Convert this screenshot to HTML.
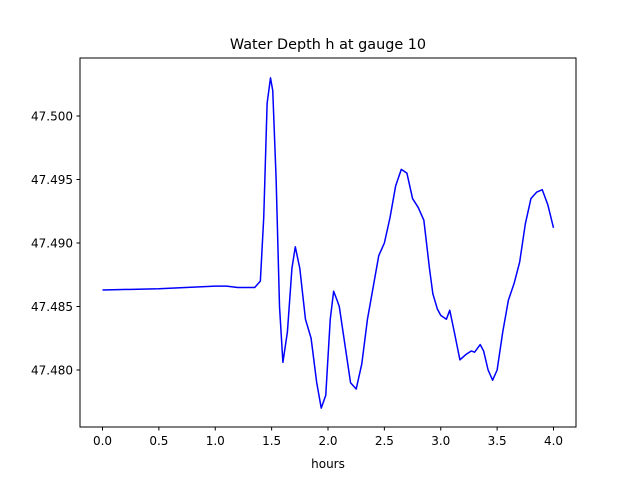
<!DOCTYPE html>
<html><head><meta charset="utf-8"><style>
body{margin:0;background:#fff;}
svg{font-family:"DejaVu Sans","Liberation Sans",sans-serif;}
</style></head><body>
<svg id="chart" width="640" height="480" xmlns="http://www.w3.org/2000/svg">
<rect width="640" height="480" fill="#fff"/>
<text x="328" y="49" text-anchor="middle" font-size="14.4">Water Depth h at gauge 10</text>
<g id="ticks"></g>
<polyline id="series" fill="none" stroke="#0000ff" stroke-width="1.5" stroke-linejoin="round"/>
<rect x="80" y="58" width="496" height="369" fill="none" stroke="#000" stroke-width="1"/>
<text x="328" y="468" text-anchor="middle" font-size="12">hours</text>
</svg>
<script>
const hours=[0,0.5,1.0,1.1,1.2,1.35,1.4,1.43,1.46,1.49,1.51,1.54,1.57,1.6,1.64,1.68,1.71,1.75,1.8,1.85,1.9,1.94,1.98,2.02,2.05,2.08,2.1,2.15,2.2,2.25,2.3,2.35,2.4,2.45,2.5,2.55,2.6,2.65,2.7,2.75,2.8,2.85,2.9,2.93,2.97,3.0,3.05,3.08,3.12,3.17,3.22,3.27,3.3,3.35,3.38,3.42,3.46,3.5,3.55,3.6,3.65,3.7,3.75,3.8,3.85,3.9,3.95,4.0];
const depth=[47.4863,47.4864,47.4866,47.4866,47.4865,47.4865,47.4870,47.4920,47.5010,47.5030,47.5020,47.4950,47.4850,47.4806,47.4830,47.4880,47.4897,47.4880,47.4840,47.4825,47.4790,47.4770,47.4780,47.4840,47.4862,47.4855,47.4850,47.4820,47.4790,47.4785,47.4805,47.4840,47.4865,47.4890,47.4900,47.4920,47.4945,47.4958,47.4955,47.4935,47.4928,47.4918,47.4880,47.4860,47.4848,47.4843,47.4840,47.4847,47.4830,47.4808,47.4812,47.4815,47.4814,47.4820,47.4815,47.4800,47.4792,47.4800,47.4830,47.4855,47.4868,47.4885,47.4915,47.4935,47.4940,47.4942,47.4930,47.4912];
const xTicks=[0,0.5,1.0,1.5,2.0,2.5,3.0,3.5,4.0];
const yTicks=[47.480,47.485,47.490,47.495,47.500];
const X=t=>102.5+(t)*112.75;
const Y=h=>116-(h-47.5)*12700;
const NS="http://www.w3.org/2000/svg";
const g=document.getElementById('ticks');
function mk(tag,attrs){const e=document.createElementNS(NS,tag);for(const k in attrs)e.setAttribute(k,attrs[k]);return e;}
xTicks.forEach(t=>{
 const l=mk('line',{x1:X(t),x2:X(t),y1:427,y2:430.5,stroke:'#000'});
 
 
 g.appendChild(l);
 const tx=mk('text',{x:X(t),y:445,'text-anchor':'middle','font-size':'12'});
 
 
 tx.textContent=t.toFixed(1);g.appendChild(tx);
});
yTicks.forEach(v=>{
 const l=mk('line',{x1:76.5,x2:80,y1:Y(v),y2:Y(v),stroke:'#000'});
 
 
 g.appendChild(l);
 const tx=mk('text',{x:73,y:Y(v)+4.5,'text-anchor':'end','font-size':'12'});
 
 
 tx.textContent=v.toFixed(3);g.appendChild(tx);
});
document.getElementById('series').setAttribute('points',hours.map((t,i)=>X(t)+','+Y(depth[i])).join(' '));
</script>
</body></html>
